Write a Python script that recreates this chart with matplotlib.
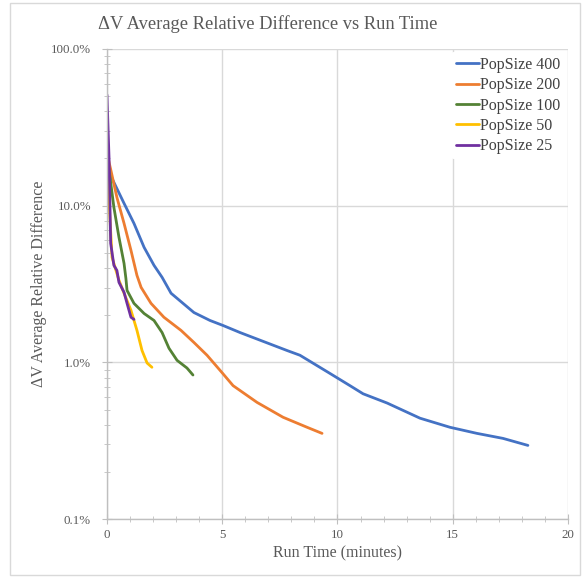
import matplotlib.pyplot as plt
from matplotlib.ticker import FixedLocator, FuncFormatter, LogLocator, MultipleLocator
from matplotlib.patches import Rectangle

# run time (minutes) and average relative difference (%) per population size
t400 = [0.02, 0.13, 0.22, 0.74, 1.17, 1.61, 2.04, 2.39, 2.78, 3.77, 4.47, 5.03, 5.77,
        7.81, 8.37, 9.67, 10.54, 11.11, 12.15, 13.58, 14.88, 16.05, 17.18, 18.26]
d400 = [19.5, 15.2, 14.9, 10.35, 7.71, 5.42, 4.16, 3.49, 2.76, 2.08, 1.85, 1.72, 1.55,
        1.19, 1.11, 0.85, 0.71, 0.63, 0.55, 0.44, 0.385, 0.352, 0.327, 0.295]

t200 = [0.02, 0.17, 0.43, 0.74, 1.04, 1.30, 1.48, 1.91, 2.47, 3.21, 3.77, 4.34, 4.99,
        5.47, 6.51, 7.64, 8.68, 9.33]
d200 = [21.0, 16.8, 11.3, 7.71, 5.19, 3.59, 3.01, 2.38, 1.94, 1.60, 1.34, 1.11, 0.86,
        0.71, 0.555, 0.446, 0.385, 0.352]

t100 = [0.02, 0.13, 0.30, 0.52, 0.74, 0.82, 0.87, 1.17, 1.61, 2.04, 2.39, 2.69, 3.04,
        3.47, 3.73]
d100 = [20.0, 15.2, 9.75, 6.28, 4.28, 3.44, 2.88, 2.38, 2.05, 1.85, 1.55, 1.23, 1.03,
        0.92, 0.83]

t50 = [0.02, 0.10, 0.22, 0.39, 0.52, 0.74, 1.04, 1.30, 1.52, 1.74, 1.95]
d50 = [20.0, 10.0, 4.68, 3.86, 3.34, 2.76, 2.15, 1.60, 1.19, 0.99, 0.93]

t25 = [0.0, 0.05, 0.09, 0.16, 0.30, 0.43, 0.52, 0.74, 0.87, 1.04, 1.17]
d25 = [51.0, 30.0, 20.0, 5.75, 4.16, 3.86, 3.24, 2.80, 2.38, 1.94, 1.88]

series = [
    ("PopSize 400", t400, d400, "#4472C4"),
    ("PopSize 200", t200, d200, "#ED7D31"),
    ("PopSize 100", t100, d100, "#548235"),
    ("PopSize 50", t50, d50, "#FFC000"),
    ("PopSize 25", t25, d25, "#7030A0"),
]

plt.rcParams['font.family'] = ['Liberation Serif', 'DejaVu Serif']
grey = "#595959"

fig = plt.figure(figsize=(5.83, 5.77), dpi=100)
ax = fig.add_axes([0.1835, 0.1005, 0.7908, 0.8146])

for name, t, d, c in series:
    ax.plot(t, d, color=c, lw=2.0, label=name, solid_capstyle='round')

ax.set_yscale('log')
ax.set_ylim(0.1, 100)
ax.set_xlim(0, 20)
ax.xaxis.set_major_locator(MultipleLocator(5))
ax.xaxis.set_minor_locator(MultipleLocator(1))
ax.yaxis.set_major_locator(FixedLocator([0.1, 1, 10, 100]))
ax.yaxis.set_minor_locator(LogLocator(base=10, subs=range(2, 10)))
ax.yaxis.set_major_formatter(FuncFormatter(lambda v, p: f"{v:.1f}%"))
ax.yaxis.set_minor_formatter(FuncFormatter(lambda v, p: ""))

ax.grid(True, which='major', color="#d9d9d9", lw=1.0)
ax.set_axisbelow(True)
for s in ['top', 'right']:
    ax.spines[s].set_visible(False)
for s in ['left', 'bottom']:
    ax.spines[s].set_color("#bfbfbf")
    ax.spines[s].set_linewidth(1.0)
ax.tick_params(which='both', direction='inout', color="#bfbfbf", labelcolor=grey,
               labelsize=9.3)
ax.tick_params(which='major', length=7)
ax.tick_params(which='minor', length=5)
ax.tick_params(axis='y', pad=8)
ax.tick_params(axis='x', pad=4)

fig.text(0.46, 0.958, "ΔV Average Relative Difference vs Run Time", color=grey,
         fontsize=13.3, ha='center', va='center')
ax.set_xlabel("Run Time (minutes)", color=grey, fontsize=11.5, labelpad=3)
ax.set_ylabel("ΔV Average Relative Difference", color=grey, fontsize=11.5, labelpad=3)

leg = ax.legend(loc='upper right', bbox_to_anchor=(1.0, 1.0), frameon=True, fontsize=11.5,
                handlelength=1.45, handletextpad=0.05, labelspacing=0.27, borderpad=0.3,
                borderaxespad=0.2)
leg.get_frame().set_edgecolor('none')
leg.get_frame().set_facecolor('white')
leg.get_frame().set_alpha(1.0)
for txt in leg.get_texts():
    txt.set_color("#404040")

fig.patches.append(Rectangle((0.017, 0.004), 0.978, 0.99, transform=fig.transFigure,
                             fill=False, edgecolor="#d9d9d9", lw=1.0))

fig.savefig("out.png", dpi=100)
